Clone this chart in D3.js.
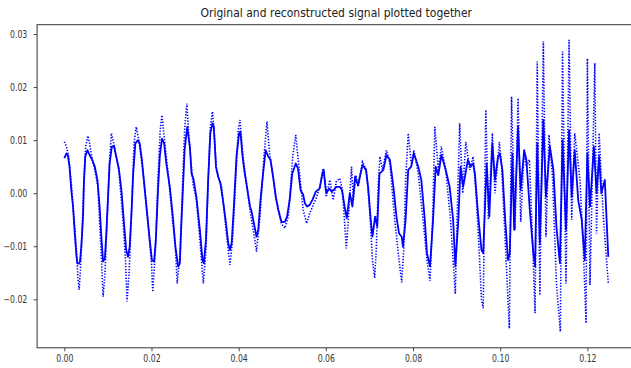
<!DOCTYPE html>
<html>
<head>
<meta charset="utf-8">
<script src="https://cdn.jsdelivr.net/npm/d3@7"></script>
<style>
  body { margin: 0; background: #fff; }
  svg { display: block; font-family: 'DejaVu Sans', sans-serif; }
</style>
</head>
<body>
<div id="chart"></div>
<script>
// [time (s), amplitude]
const original = [
  [0.0000, 0.0066], [0.0005, 0.0075], [0.0008, 0.0072], [0.0012, 0.0050], [0.0016, 0.0006], [0.0020, -0.0025],
  [0.0024, -0.0076], [0.0028, -0.0120], [0.0030, -0.0132], [0.0033, -0.0133], [0.0036, -0.0129], [0.0039, -0.0101],
  [0.0043, -0.0044], [0.0045, 0.0019], [0.0048, 0.0069], [0.0053, 0.0081], [0.0058, 0.0072], [0.0064, 0.0063],
  [0.0070, 0.0050], [0.0076, 0.0025], [0.0081, -0.0025], [0.0085, -0.0082], [0.0089, -0.0129], [0.0093, -0.0123],
  [0.0096, -0.0082], [0.0100, -0.0013], [0.0104, 0.0056], [0.0109, 0.0088], [0.0114, 0.0089], [0.0119, 0.0069],
  [0.0125, 0.0047], [0.0131, 0.0006], [0.0137, -0.0057], [0.0142, -0.0107], [0.0146, -0.0120], [0.0150, -0.0101],
  [0.0154, -0.0040], [0.0158, 0.0037], [0.0163, 0.0094], [0.0169, 0.0100], [0.0173, 0.0094], [0.0178, 0.0063],
  [0.0184, 0.0012], [0.0190, -0.0038], [0.0196, -0.0088], [0.0201, -0.0126], [0.0206, -0.0129], [0.0210, -0.0088],
  [0.0215, 0.0006], [0.0219, 0.0069], [0.0224, 0.0103], [0.0229, 0.0094], [0.0234, 0.0056], [0.0242, 0.0012],
  [0.0249, -0.0044], [0.0255, -0.0101], [0.0261, -0.0138], [0.0265, -0.0133], [0.0268, -0.0069], [0.0272, 0.0006],
  [0.0276, 0.0081], [0.0282, 0.0125], [0.0288, 0.0088], [0.0292, 0.0037], [0.0296, 0.0028], [0.0303, -0.0007],
  [0.0311, -0.0069], [0.0317, -0.0126], [0.0320, -0.0132], [0.0325, -0.0088], [0.0330, 0.0025], [0.0335, 0.0113],
  [0.0340, 0.0132], [0.0343, 0.0125], [0.0348, 0.0050], [0.0353, 0.0031], [0.0358, 0.0019], [0.0364, -0.0013],
  [0.0371, -0.0057], [0.0376, -0.0094], [0.0380, -0.0107], [0.0384, -0.0094], [0.0389, -0.0025], [0.0395, 0.0069],
  [0.0401, 0.0113], [0.0404, 0.0116], [0.0409, 0.0069], [0.0414, 0.0037], [0.0419, 0.0012], [0.0426, -0.0025],
  [0.0429, -0.0032], [0.0435, -0.0057], [0.0441, -0.0082], [0.0445, -0.0069], [0.0450, -0.0013], [0.0456, 0.0037],
  [0.0462, 0.0081], [0.0468, 0.0069], [0.0473, 0.0063], [0.0479, 0.0031], [0.0485, -0.0007], [0.0491, -0.0032],
  [0.0498, -0.0054], [0.0506, -0.0054], [0.0511, -0.0044], [0.0517, -0.0013], [0.0523, 0.0037], [0.0531, 0.0056],
  [0.0536, 0.0047], [0.0542, 0.0006], [0.0548, -0.0003], [0.0552, -0.0019], [0.0557, -0.0025], [0.0563, -0.0022],
  [0.0569, -0.0013], [0.0577, 0.0003], [0.0586, 0.0009], [0.0592, 0.0037], [0.0595, 0.0044], [0.0601, 0.0000],
  [0.0608, 0.0009], [0.0613, 0.0003], [0.0618, 0.0006], [0.0624, 0.0012], [0.0632, 0.0012], [0.0637, 0.0006],
  [0.0643, -0.0025], [0.0648, -0.0047], [0.0655, 0.0000], [0.0661, -0.0025], [0.0667, 0.0031], [0.0674, 0.0015],
  [0.0678, 0.0031], [0.0684, 0.0053], [0.0692, 0.0044], [0.0697, 0.0012], [0.0703, -0.0050], [0.0707, -0.0082],
  [0.0713, -0.0044], [0.0718, -0.0063], [0.0723, 0.0037], [0.0732, 0.0044], [0.0739, 0.0072], [0.0747, 0.0063],
  [0.0755, 0.0012], [0.0762, -0.0044], [0.0768, -0.0076], [0.0774, -0.0082], [0.0777, -0.0101], [0.0783, -0.0050],
  [0.0789, 0.0044], [0.0796, 0.0050], [0.0802, 0.0075], [0.0812, 0.0050], [0.0819, 0.0025], [0.0827, -0.0050],
  [0.0832, -0.0113], [0.0839, -0.0138], [0.0846, -0.0050], [0.0852, 0.0050], [0.0858, 0.0034], [0.0865, 0.0072],
  [0.0873, 0.0050], [0.0877, 0.0037], [0.0884, 0.0012], [0.0892, -0.0050], [0.0897, -0.0138], [0.0904, -0.0050],
  [0.0909, 0.0050], [0.0915, 0.0012], [0.0926, 0.0063], [0.0932, 0.0050], [0.0938, 0.0056], [0.0942, 0.0037],
  [0.0949, -0.0038], [0.0957, -0.0107], [0.0961, -0.0113], [0.0969, 0.0056], [0.0975, -0.0044], [0.0982, 0.0094],
  [0.0988, 0.0025], [0.0995, 0.0069], [0.0999, 0.0075], [0.1005, 0.0044], [0.1011, -0.0044], [0.1018, -0.0126],
  [0.1022, -0.0113], [0.1028, 0.0075], [0.1032, -0.0069], [0.1041, 0.0125], [0.1047, 0.0006], [0.1055, 0.0081],
  [0.1060, 0.0063], [0.1068, -0.0032], [0.1076, -0.0113], [0.1080, -0.0138], [0.1085, 0.0094], [0.1091, -0.0094],
  [0.1099, 0.0138], [0.1105, -0.0007], [0.1114, 0.0088], [0.1122, 0.0044], [0.1129, -0.0063], [0.1137, -0.0132],
  [0.1143, 0.0100], [0.1151, -0.0069], [0.1158, 0.0119], [0.1164, -0.0007], [0.1171, 0.0081], [0.1179, -0.0013],
  [0.1187, -0.0050], [0.1194, -0.0126], [0.1200, 0.0075], [0.1206, -0.0025], [0.1215, 0.0088], [0.1221, 0.0000],
  [0.1227, 0.0069], [0.1232, 0.0000], [0.1240, 0.0025], [0.1248, -0.0120]
];

const reconstructed = [
  [0.0000, 0.0097], [0.0005, 0.0088], [0.0010, 0.0069], [0.0016, 0.0019], [0.0022, -0.0044], [0.0028, -0.0107],
  [0.0031, -0.0157], [0.0034, -0.0182], [0.0037, -0.0145], [0.0041, -0.0069], [0.0045, 0.0025], [0.0049, 0.0088],
  [0.0054, 0.0108], [0.0058, 0.0094], [0.0064, 0.0063], [0.0070, 0.0044], [0.0077, 0.0012], [0.0085, -0.0120],
  [0.0089, -0.0195], [0.0093, -0.0157], [0.0098, -0.0057], [0.0103, 0.0050], [0.0108, 0.0113], [0.0115, 0.0088],
  [0.0125, 0.0044], [0.0134, -0.0044], [0.0140, -0.0120], [0.0144, -0.0204], [0.0149, -0.0145], [0.0155, -0.0019],
  [0.0160, 0.0094], [0.0165, 0.0125], [0.0171, 0.0100], [0.0180, 0.0044], [0.0192, -0.0057], [0.0200, -0.0132],
  [0.0203, -0.0186], [0.0209, -0.0107], [0.0215, 0.0031], [0.0220, 0.0119], [0.0224, 0.0147], [0.0230, 0.0100],
  [0.0239, 0.0031], [0.0249, -0.0057], [0.0255, -0.0107], [0.0259, -0.0170], [0.0265, -0.0120], [0.0270, -0.0013],
  [0.0276, 0.0119], [0.0281, 0.0169], [0.0287, 0.0094], [0.0295, 0.0019], [0.0303, -0.0013], [0.0311, -0.0088],
  [0.0319, -0.0170], [0.0325, -0.0107], [0.0330, 0.0019], [0.0335, 0.0125], [0.0340, 0.0154], [0.0345, 0.0100],
  [0.0349, 0.0044], [0.0361, 0.0012], [0.0371, -0.0069], [0.0380, -0.0135], [0.0386, -0.0088], [0.0394, 0.0037],
  [0.0399, 0.0119], [0.0403, 0.0138], [0.0410, 0.0069], [0.0426, -0.0032], [0.0437, -0.0088], [0.0441, -0.0110],
  [0.0449, -0.0044], [0.0458, 0.0069], [0.0465, 0.0135], [0.0471, 0.0075], [0.0487, -0.0013], [0.0498, -0.0057],
  [0.0506, -0.0066], [0.0514, -0.0044], [0.0524, 0.0069], [0.0531, 0.0110], [0.0539, 0.0044], [0.0548, -0.0032],
  [0.0556, -0.0057], [0.0563, -0.0038], [0.0579, -0.0007], [0.0586, 0.0012], [0.0594, 0.0047], [0.0601, -0.0007],
  [0.0609, 0.0025], [0.0617, -0.0013], [0.0624, 0.0022], [0.0632, 0.0028], [0.0638, 0.0006], [0.0647, -0.0104],
  [0.0653, -0.0032], [0.0656, 0.0012], [0.0659, 0.0050], [0.0663, -0.0013], [0.0669, 0.0034], [0.0674, 0.0012],
  [0.0684, 0.0059], [0.0693, 0.0044], [0.0701, -0.0038], [0.0707, -0.0126], [0.0712, -0.0160], [0.0716, -0.0101],
  [0.0720, 0.0012], [0.0724, 0.0069], [0.0730, 0.0044], [0.0739, 0.0081], [0.0747, 0.0056], [0.0758, -0.0050],
  [0.0768, -0.0126], [0.0774, -0.0168], [0.0779, -0.0101], [0.0783, 0.0025], [0.0789, 0.0113], [0.0796, 0.0056],
  [0.0802, 0.0081], [0.0812, 0.0037], [0.0823, -0.0050], [0.0832, -0.0126], [0.0839, -0.0165], [0.0845, -0.0050],
  [0.0850, 0.0125], [0.0858, 0.0044], [0.0865, 0.0088], [0.0875, 0.0044], [0.0886, -0.0050], [0.0892, -0.0126],
  [0.0897, -0.0190], [0.0901, -0.0050], [0.0907, 0.0132], [0.0914, 0.0000], [0.0921, 0.0097], [0.0930, 0.0044],
  [0.0938, 0.0069], [0.0946, -0.0019], [0.0952, -0.0113], [0.0957, -0.0200], [0.0961, -0.0217], [0.0967, 0.0157],
  [0.0973, -0.0050], [0.0982, 0.0113], [0.0988, 0.0000], [0.0998, 0.0097], [0.1003, 0.0056], [0.1011, -0.0082],
  [0.1021, -0.0255], [0.1026, 0.0182], [0.1034, -0.0069], [0.1041, 0.0179], [0.1047, -0.0054], [0.1055, 0.0081],
  [0.1060, 0.0050], [0.1067, 0.0063], [0.1075, -0.0107], [0.1080, -0.0226], [0.1085, 0.0248], [0.1091, -0.0192],
  [0.1099, 0.0286], [0.1105, -0.0082], [0.1112, 0.0110], [0.1120, 0.0031], [0.1129, -0.0170], [0.1138, -0.0261],
  [0.1143, 0.0267], [0.1151, -0.0170], [0.1158, 0.0289], [0.1164, -0.0050], [0.1171, 0.0113], [0.1183, 0.0025],
  [0.1191, -0.0113], [0.1197, -0.0245], [0.1200, 0.0254], [0.1206, -0.0173], [0.1217, 0.0245], [0.1221, -0.0076],
  [0.1227, 0.0113], [0.1236, -0.0038], [0.1248, -0.0170]
];

const xTicks = [0, 0.02, 0.04, 0.06, 0.08, 0.10, 0.12];
const yTicks = [-0.02, -0.01, 0, 0.01, 0.02, 0.03];
const xLim = [-0.00624, 0.13104];
const yLim = [-0.02914, 0.03176];
const title = 'Original and reconstructed signal plotted together';

const width = 631, height = 368;
const plot = { left: 37.1, top: 24.7, right: 635.5, bottom: 347.8 };
const squish = 0.8; // labels look horizontally compressed in the reference

const svg = d3.select('#chart').append('svg')
  .attr('width', width)
  .attr('height', height);

const xScale = d3.scaleLinear().domain(xLim).range([plot.left, plot.right]);
const yScale = d3.scaleLinear().domain(yLim).range([plot.bottom, plot.top]);

const fmt = v => d3.format('.2f')(v).replace('-', '\u2212');

const line = d3.line()
  .x(d => xScale(d[0]))
  .y(d => yScale(d[1]));

svg.append('defs').append('clipPath').attr('id', 'clip')
  .append('rect')
  .attr('x', plot.left).attr('y', plot.top)
  .attr('width', plot.right - plot.left).attr('height', plot.bottom - plot.top);

const lines = svg.append('g').attr('clip-path', 'url(#clip)');

lines.append('path')
  .datum(original)
  .attr('fill', 'none')
  .attr('stroke', '#0000ff')
  .attr('stroke-width', 1.8)
  .attr('stroke-linejoin', 'round')
  .attr('d', line);

lines.append('path')
  .datum(reconstructed)
  .attr('fill', 'none')
  .attr('stroke', '#0000ff')
  .attr('stroke-width', 1.6)
  .attr('stroke-dasharray', '1.3,1.6')
  .attr('d', line);

// x axis
const xAxis = svg.append('g')
  .attr('transform', 'translate(0,' + plot.bottom + ')')
  .call(d3.axisBottom(xScale).tickValues(xTicks).tickFormat(fmt).tickSize(3.5).tickSizeOuter(0).tickPadding(4));

// y axis
const yAxis = svg.append('g')
  .attr('transform', 'translate(' + plot.left + ',0)')
  .call(d3.axisLeft(yScale).tickValues(yTicks).tickFormat(fmt).tickSize(3.5).tickSizeOuter(0));

[xAxis, yAxis].forEach(a => {
  a.select('.domain').remove();
  a.selectAll('.tick line').attr('stroke', '#333').attr('stroke-width', 0.9);
  a.selectAll('.tick text')
    .attr('fill', '#333')
    .style('font-family', "'DejaVu Sans', sans-serif")
    .style('font-size', '9.7px');
});

xAxis.selectAll('.tick text').attr('transform', 'scale(' + squish + ',1)');
yAxis.selectAll('.tick text')
  .attr('x', -9.8 / squish)
  .attr('transform', 'scale(' + squish + ',1)');

// spines
svg.append('rect')
  .attr('x', plot.left).attr('y', plot.top)
  .attr('width', plot.right - plot.left).attr('height', plot.bottom - plot.top)
  .attr('fill', 'none')
  .attr('stroke', '#333')
  .attr('stroke-width', 1);

// title
const cx = (plot.left + plot.right) / 2;
svg.append('text')
  .attr('transform', 'translate(' + cx + ',17) scale(0.9,1)')
  .attr('text-anchor', 'middle')
  .attr('fill', '#222')
  .style('font-size', '12px')
  .text(title);
</script>
</body>
</html>
